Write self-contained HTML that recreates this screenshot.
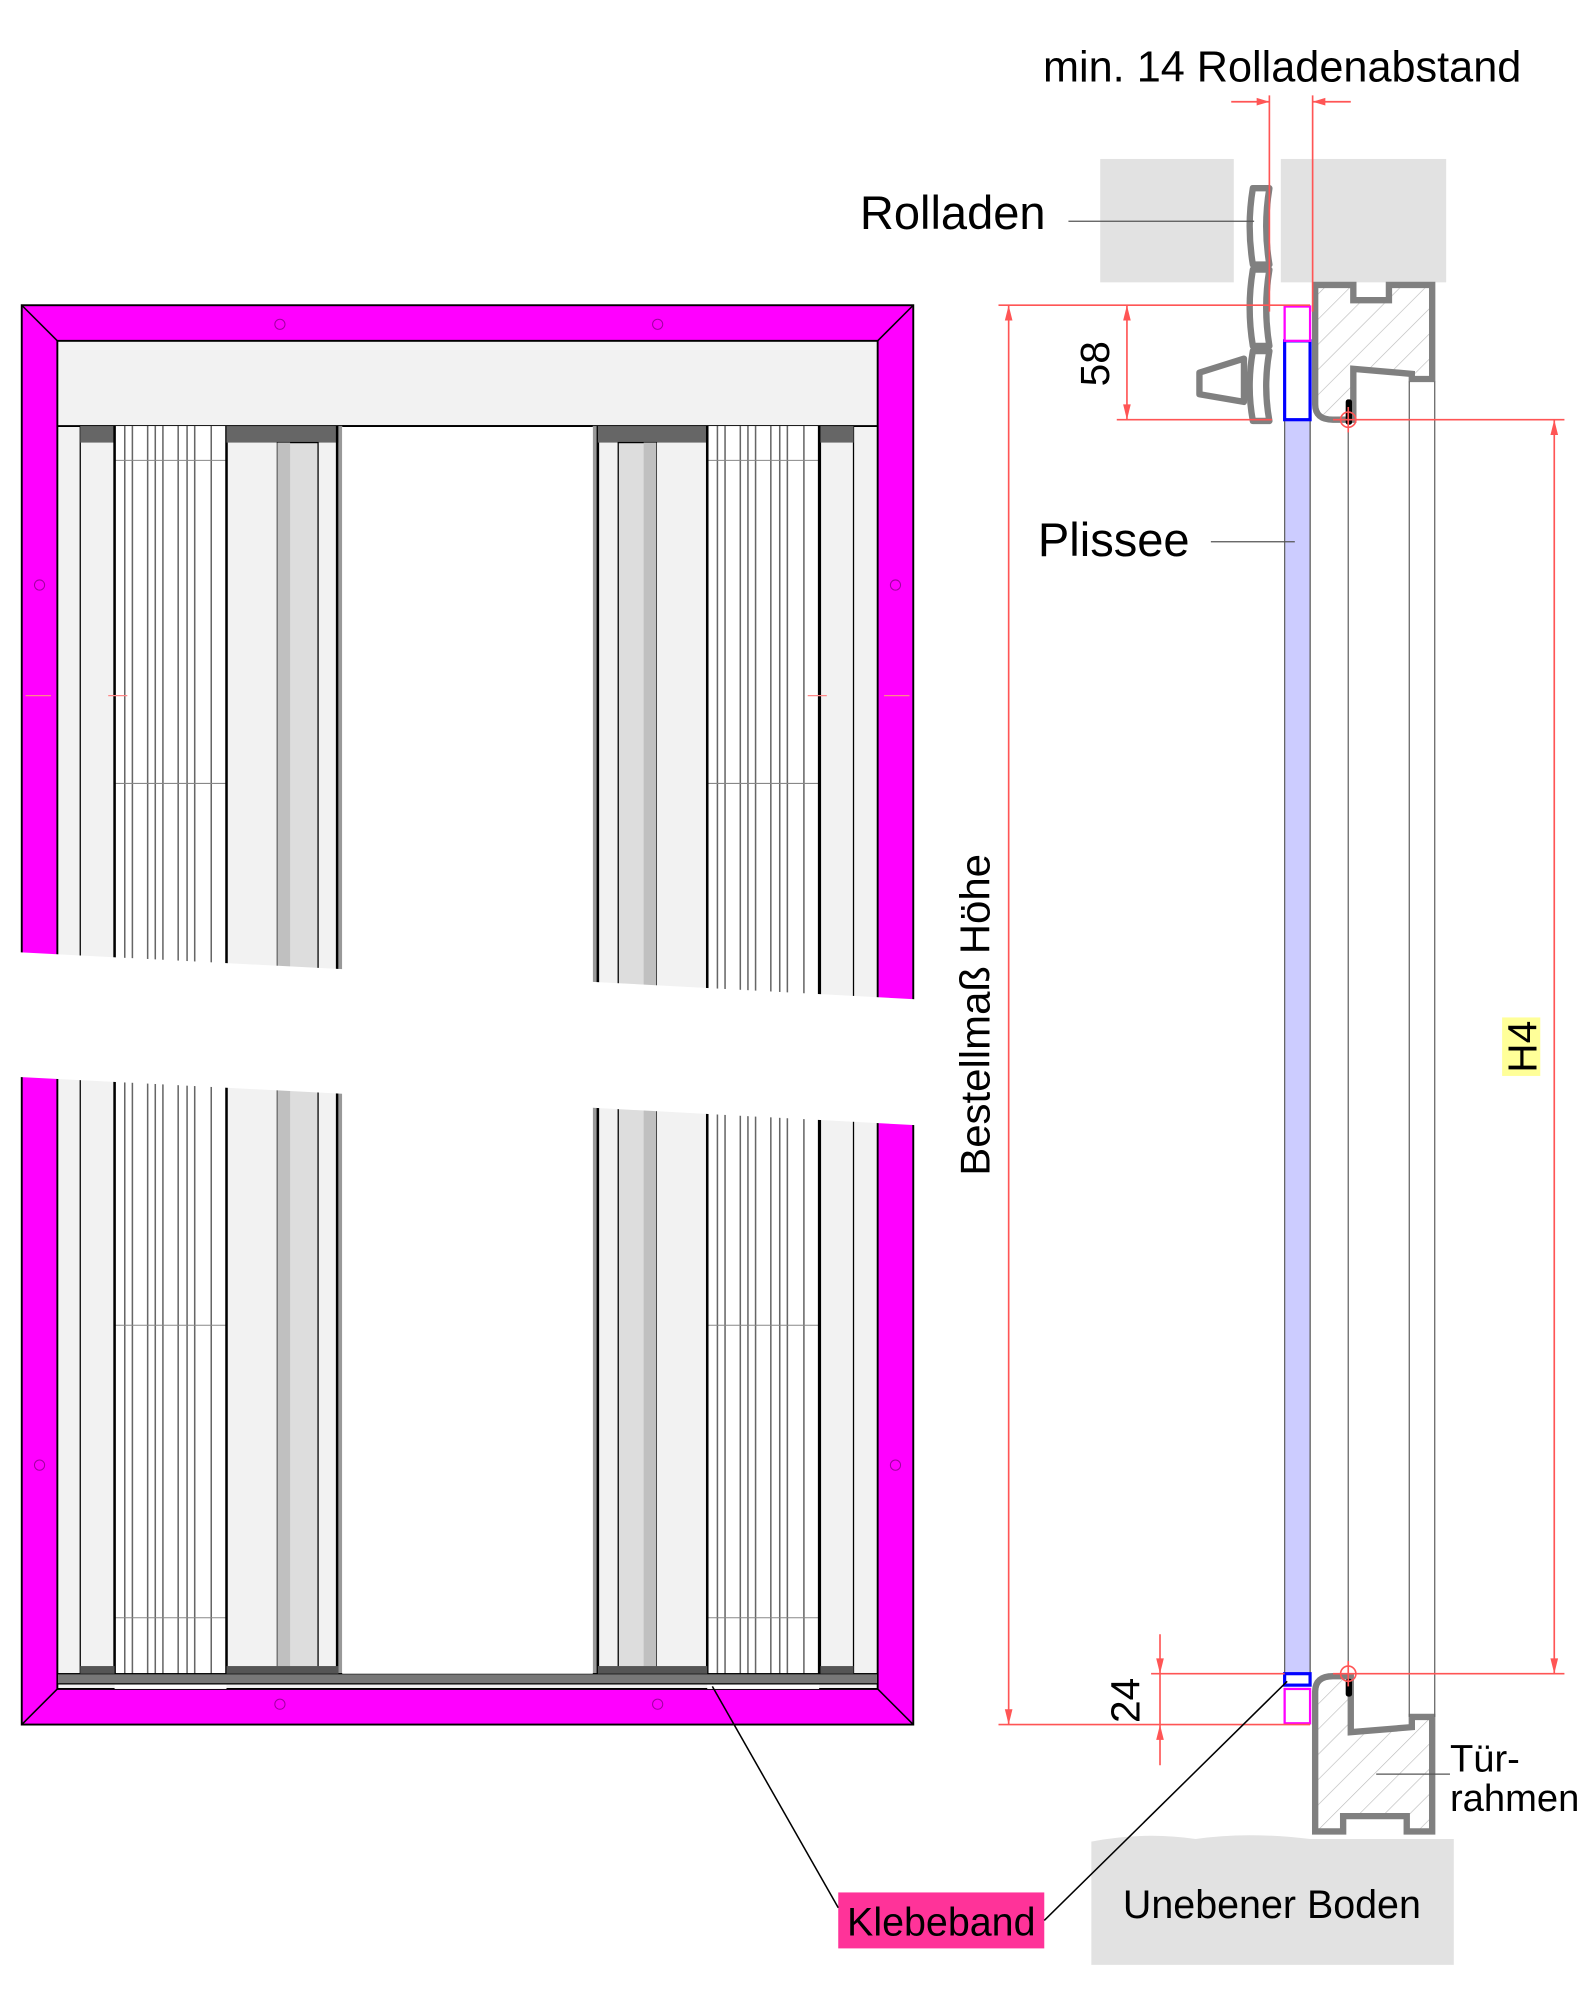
<!DOCTYPE html>
<html><head><meta charset="utf-8"><style>
html,body{margin:0;padding:0;background:#fff}
svg{display:block}
text{font-family:"Liberation Sans",sans-serif;fill:#000}
</style></head><body>
<svg width="1590" height="1998" viewBox="0 0 1250 1571" xmlns="http://www.w3.org/2000/svg">
<defs>
<pattern id="hatch" width="14" height="14" patternUnits="userSpaceOnUse" patternTransform="rotate(45)">
<line x1="0" y1="0" x2="0" y2="14" stroke="#bbb" stroke-width="1"/>
</pattern>
<g id="pleatsL">
<rect x="90" y="335" width="88" height="993" fill="#fff"/>
<g stroke="#666" stroke-width="1.2">
<line x1="98" y1="335" x2="98" y2="1316"/><line x1="104" y1="335" x2="104" y2="1316"/>
<line x1="116" y1="335" x2="116" y2="1316"/><line x1="122" y1="335" x2="122" y2="1316"/>
<line x1="128" y1="335" x2="128" y2="1316"/><line x1="140" y1="335" x2="140" y2="1316"/>
<line x1="147" y1="335" x2="147" y2="1316"/><line x1="153" y1="335" x2="153" y2="1316"/>
<line x1="166" y1="335" x2="166" y2="1316"/>
</g>
<g stroke="#888" stroke-width="0.8">
<line x1="90" y1="362" x2="178" y2="362"/><line x1="90" y1="616" x2="178" y2="616"/>
<line x1="90" y1="1042" x2="178" y2="1042"/><line x1="90" y1="1272" x2="178" y2="1272"/>
</g>
<line x1="90" y1="335" x2="90" y2="1316" stroke="#000" stroke-width="2"/>
<line x1="178" y1="335" x2="178" y2="1316" stroke="#000" stroke-width="2"/>
</g>
</defs>

<rect x="17" y="240" width="701" height="1116" fill="#ff00ff" stroke="#000" stroke-width="1.5"/>
<rect x="45" y="268" width="645" height="1060" fill="#f2f2f2" stroke="#000" stroke-width="1.5"/>
<g stroke="#000" stroke-width="1.2">
<line x1="17" y1="240" x2="45" y2="268"/><line x1="718" y1="240" x2="690" y2="268"/>
<line x1="17" y1="1356" x2="45" y2="1328"/><line x1="718" y1="1356" x2="690" y2="1328"/>
</g>
<g fill="none" stroke="#a000a0" stroke-width="0.8">
<circle cx="220" cy="255" r="4"/><circle cx="517" cy="255" r="4"/>
<circle cx="220" cy="1340" r="4"/><circle cx="517" cy="1340" r="4"/>
<circle cx="31" cy="460" r="4"/><circle cx="704" cy="460" r="4"/>
<circle cx="31" cy="1152" r="4"/><circle cx="704" cy="1152" r="4"/>
</g>
<line x1="45" y1="335" x2="690" y2="335" stroke="#000" stroke-width="1.5"/>
<rect x="63" y="335" width="27" height="981" fill="#f2f2f2" stroke="#000" stroke-width="1"/>
<rect x="63" y="335" width="27" height="13" fill="#666"/>
<use href="#pleatsL"/>
<rect x="178" y="335" width="88" height="13" fill="#666"/>
<rect x="218" y="348" width="32" height="968" fill="#ddd" stroke="#000" stroke-width="1"/>
<rect x="218" y="348" width="10" height="968" fill="#c0c0c0"/>
<line x1="265" y1="335" x2="265" y2="1316" stroke="#000" stroke-width="2"/>
<rect x="266" y="335" width="3" height="981" fill="#999"/>
<rect x="269" y="335" width="197" height="981" fill="#fff"/>
<rect x="466" y="335" width="4" height="981" fill="#999"/>
<line x1="470" y1="335" x2="470" y2="1316" stroke="#000" stroke-width="2"/>
<rect x="470" y="335" width="86" height="13" fill="#666"/>
<rect x="486" y="348" width="30" height="968" fill="#ddd" stroke="#000" stroke-width="1"/>
<rect x="506" y="348" width="10" height="968" fill="#c0c0c0"/>
<use href="#pleatsL" transform="translate(466 0)"/>
<rect x="645" y="335" width="26" height="981" fill="#f2f2f2" stroke="#000" stroke-width="1"/>
<rect x="645" y="335" width="26" height="13" fill="#666"/>
<rect x="45" y="1316" width="645" height="8" fill="#777" stroke="#000" stroke-width="1"/>
<rect x="63" y="1310" width="27" height="6" fill="#555"/><rect x="178" y="1310" width="88" height="6" fill="#555"/>
<rect x="470" y="1310" width="86" height="6" fill="#555"/><rect x="645" y="1310" width="26" height="6" fill="#555"/>
<polygon points="0,748 269,762 269,335 466,335 466,772 725,786 725,885 466,871 466,1316 269,1316 269,860 0,846" fill="#fff"/>
<line x1="269" y1="335" x2="466" y2="335" stroke="#000" stroke-width="1.5"/>
<g stroke="#f88" stroke-width="1"><line x1="20" y1="547" x2="40" y2="547"/><line x1="85" y1="547" x2="100" y2="547"/><line x1="635" y1="547" x2="650" y2="547"/><line x1="695" y1="547" x2="715" y2="547"/></g>

<rect x="865" y="125" width="105" height="97" fill="#e2e2e2"/>
<rect x="1007" y="125" width="130" height="97" fill="#e2e2e2"/>
<g fill="#fff" stroke="#808080" stroke-width="5" stroke-linejoin="round">
<path d="M985,148 L998,148 Q993,178 998,208 L985,208 Q980,178 985,148 Z"/>
<path d="M985,212 L998,212 Q993,242 998,272 L985,272 Q980,242 985,212 Z"/>
<path d="M985,276 L998,276 Q993,304 998,331 L985,331 Q980,304 985,276 Z"/>
<path d="M978,282 L943,293 L943,310 L978,316 Z"/>
</g>
<line x1="840" y1="174" x2="986" y2="174" stroke="#555" stroke-width="1"/>
<path d="M1034,224 L1064,224 L1064,236 L1092,236 L1092,224 L1126,224 L1126,298 L1110,298 L1110,294 L1064,290 L1064,330 L1048,330 Q1034,330 1034,318 Z" fill="url(#hatch)" stroke="#808080" stroke-width="5"/>
<path d="M1034,1330 Q1034,1318 1048,1318 L1062,1318 L1062,1362 L1110,1358 L1110,1350 L1126,1350 L1126,1440 L1106,1440 L1106,1428 L1056,1428 L1056,1440 L1034,1440 Z" fill="url(#hatch)" stroke="#808080" stroke-width="5"/>
<g stroke="#666" stroke-width="1">
<line x1="1030" y1="330" x2="1030" y2="1316"/>
<line x1="1060" y1="335" x2="1060" y2="1316"/>
<line x1="1108" y1="300" x2="1108" y2="1350"/>
<line x1="1128" y1="300" x2="1128" y2="1350"/>
</g>
<rect x="1010" y="330" width="20" height="986" fill="#ccccff" stroke="#666" stroke-width="1"/>
<rect x="1010" y="268" width="20" height="62" fill="#fff" stroke="#0000ff" stroke-width="2.5"/>
<rect x="1010" y="241" width="20" height="27" fill="#fff" stroke="#ff00ff" stroke-width="1.8"/>
<rect x="1010" y="1316" width="20" height="9" fill="#fff" stroke="#0000ff" stroke-width="2.5"/>
<rect x="1010" y="1328" width="20" height="27" fill="#fff" stroke="#ff00ff" stroke-width="1.8"/>
<rect x="1058" y="314" width="5" height="20" rx="2" fill="#000"/>
<rect x="1058" y="1320" width="5" height="14" rx="2" fill="#000"/>
<path d="M858,1448 Q900,1440 940,1446 Q980,1440 1030,1446 L1143,1446 L1143,1545 L858,1545 Z" fill="#e2e2e2"/>
<text x="1000" y="1508" font-size="31" text-anchor="middle">Unebener Boden</text>

<g stroke="#f55" stroke-width="1.3" fill="none">
<line x1="998" y1="75" x2="998" y2="245"/><line x1="1032" y1="75" x2="1032" y2="245"/>
<line x1="968" y1="80" x2="998" y2="80"/><line x1="1032" y1="80" x2="1062" y2="80"/>
<line x1="785" y1="240" x2="1030" y2="240"/>
<line x1="785" y1="1356" x2="1030" y2="1356"/>
<line x1="793" y1="240" x2="793" y2="1356"/>
<line x1="878" y1="330" x2="1000" y2="330"/>
<line x1="886" y1="240" x2="886" y2="330"/>
<line x1="1048" y1="330" x2="1230" y2="330"/>
<line x1="1048" y1="1316" x2="1230" y2="1316"/>
<line x1="1222" y1="330" x2="1222" y2="1316"/>
<line x1="905" y1="1316" x2="1010" y2="1316"/>
<line x1="912" y1="1285" x2="912" y2="1388"/>
<circle cx="1060" cy="330" r="6"/><line x1="1060" y1="320" x2="1060" y2="340"/>
<circle cx="1060" cy="1316" r="6"/><line x1="1060" y1="1306" x2="1060" y2="1326"/>
</g>
<g fill="#f55">
<polygon points="998,80 988,77 988,83"/><polygon points="1032,80 1042,77 1042,83"/>
<polygon points="793,240 790,252 796,252"/><polygon points="793,1356 790,1344 796,1344"/>
<polygon points="886,240 883,252 889,252"/><polygon points="886,330 883,318 889,318"/>
<polygon points="1222,330 1219,342 1225,342"/><polygon points="1222,1316 1219,1304 1225,1304"/>
<polygon points="912,1316 909,1304 915,1304"/><polygon points="912,1356 909,1368 915,1368"/>
</g>

<text x="820" y="64" font-size="34">min. 14 Rolladenabstand</text>
<text x="676" y="180" font-size="37">Rolladen</text>
<text x="816" y="437" font-size="37">Plissee</text>
<line x1="952" y1="426" x2="1018" y2="426" stroke="#555" stroke-width="1"/>
<text transform="translate(872,286) rotate(-90)" font-size="32" text-anchor="middle">58</text>
<text transform="translate(896,1337) rotate(-90)" font-size="32" text-anchor="middle">24</text>
<text transform="translate(778,798) rotate(-90)" font-size="33" text-anchor="middle">Bestellmaß Höhe</text>
<rect x="1181" y="800" width="30" height="46" fill="#ffff99"/>
<text transform="translate(1208,823) rotate(-90)" font-size="32" text-anchor="middle">H4</text>
<text x="1140" y="1393" font-size="30">Tür-</text>
<text x="1140" y="1424" font-size="30">rahmen</text>
<line x1="1082" y1="1395" x2="1140" y2="1395" stroke="#555" stroke-width="1"/>
<rect x="659" y="1488" width="162" height="44" fill="#ff3399"/>
<text x="740" y="1522" font-size="31" text-anchor="middle">Klebeband</text>
<g stroke="#000" stroke-width="1.2">
<line x1="560" y1="1326" x2="659" y2="1500"/>
<line x1="821" y1="1510" x2="1012" y2="1322"/>
</g>
</svg>
</body></html>
